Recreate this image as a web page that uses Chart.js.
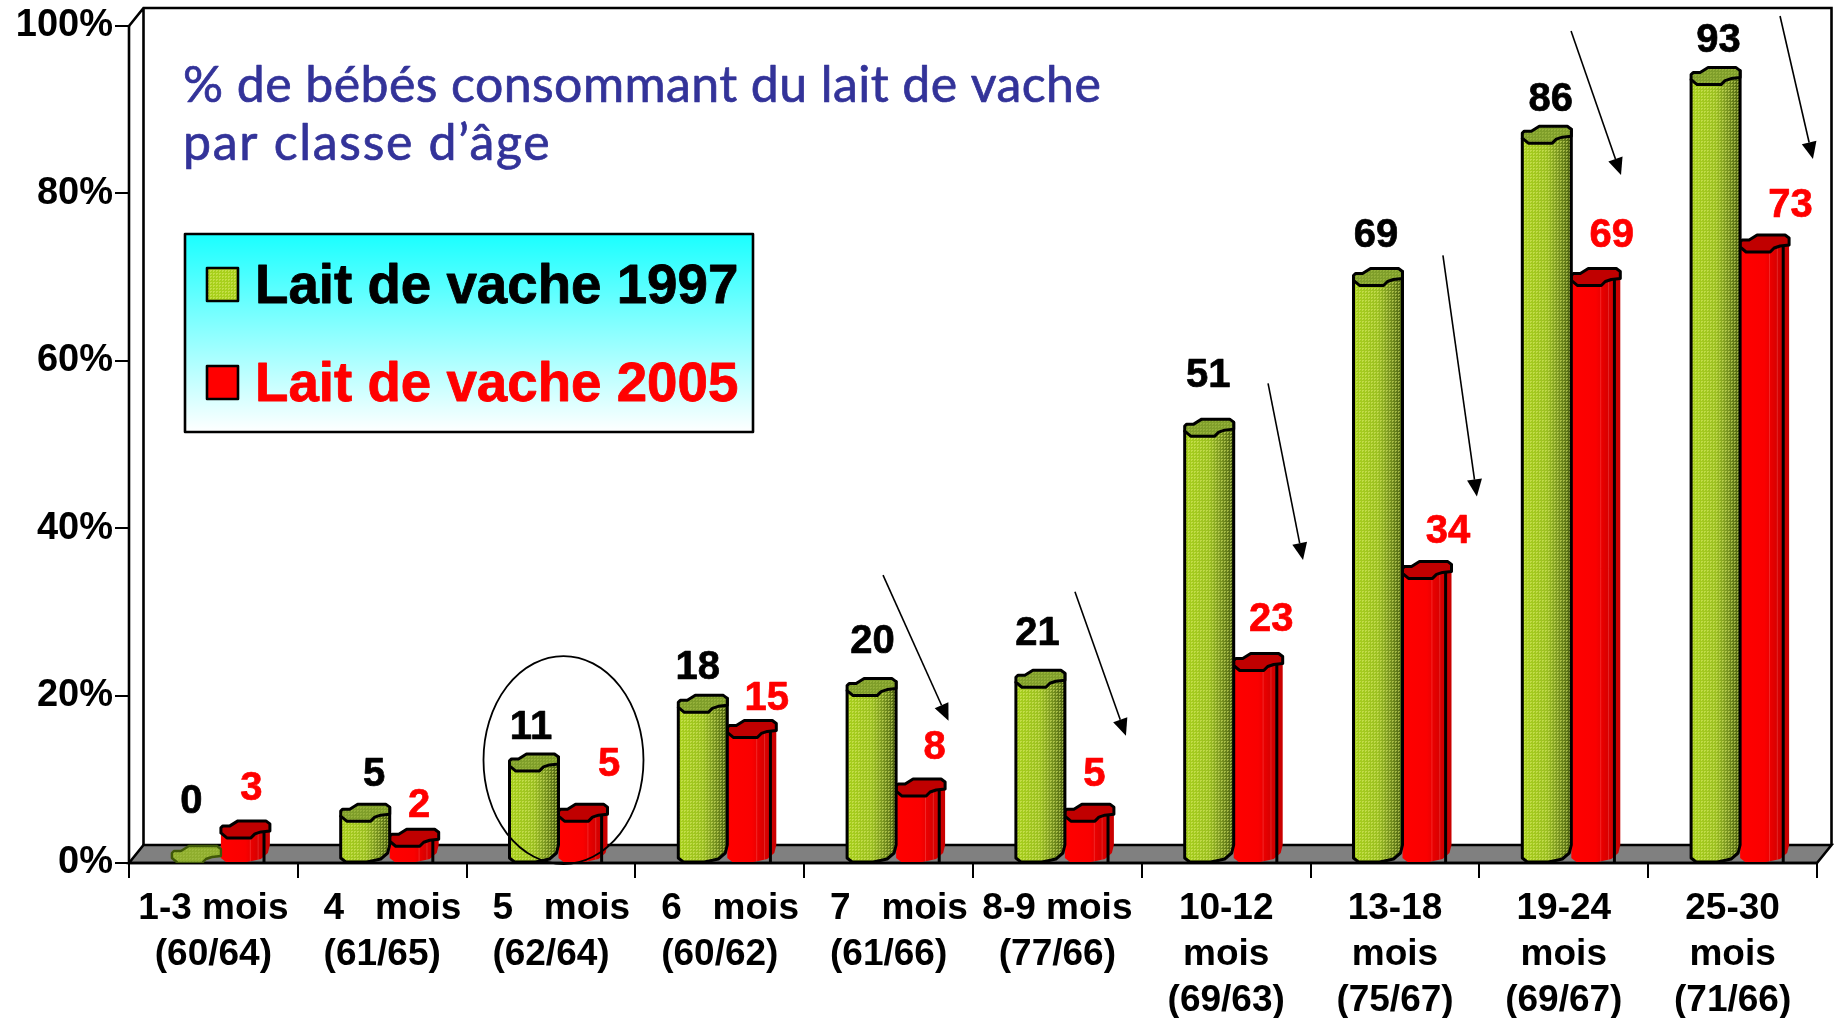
<!DOCTYPE html>
<html lang="fr">
<head>
<meta charset="utf-8">
<title>Lait de vache</title>
<style>html,body{margin:0;padding:0;background:#fff}canvas{display:block}</style>
<script src="https://cdn.jsdelivr.net/npm/chart.js@4/dist/chart.umd.js"></script>
</head>
<body>
<canvas id="c" width="1834" height="1018"></canvas>
<script>
// ---- data ----
const categories = [
  ['1-3 mois', '(60/64)'], ['  4   mois', '(61/65)'], ['  5   mois', '(62/64)'],
  ['  6   mois', '(60/62)'], ['  7   mois', '(61/66)'], ['8-9 mois', '(77/66)'],
  ['10-12', 'mois', '(69/63)'], ['13-18', 'mois', '(75/67)'],
  ['19-24', 'mois', '(69/67)'], ['25-30', 'mois', '(71/66)']
];
const values1997 = [0, 5, 11, 18, 20, 21, 51, 69, 86, 93];
const values2005 = [3, 2, 5, 15, 8, 5, 23, 34, 69, 73];
const series1997Name = 'Lait de vache 1997';
const series2005Name = 'Lait de vache 2005';
const titleLines = ['% de bébés consommant du lait de vache', 'par classe d\u2019âge'];
const yTicks = [0, 20, 40, 60, 80, 100];

// ---- hand placed annotations, in axis units (category index, percent) ----
const arrows = [
  [3.967, 34.4, 4.355, 17.0], [5.104, 32.4, 5.406, 15.2], [6.248, 57.3, 6.455, 36.2],
  [7.284, 72.6, 7.485, 43.8], [8.043, 99.4, 8.339, 82.2], [9.281, 101.2, 9.476, 84.1]
];
const circled = { cat: 2.074, pct: 12.3 };

// ---- label nudges in px, relative to the top of each bar ----
const lift1997 = [[-5, 61], [9, 46], [-3, 43], [-5, 44], [1, 54], [-3, 53], [-1, 60], [-2, 50], [4, 43], [3, 44]];
const lift2005 = [[6, 49], [5, 40], [26, 56], [15, 38], [14, 48], [5, 46], [13, 51], [21, 46], [16, 50], [26, 46]];

// ---- styling ----
const FONT = '"Liberation Sans", Arial, sans-serif';
const INK = '#000';
const RED = '#ff0000';
const DEPTH_X = 14.5, DEPTH_Y = 18, BAR_SHIFT = 7.5;

const capShape = [[0,-10],[2,-12],[9,-12],[17,-17],[45,-17],[49,-14],[49,-7],[40,-6],[34,-4],[30,0],[6,0],[0,-5]];

function dotPattern(ctx, light, alpha) {
  const c = document.createElement('canvas');
  c.width = 3; c.height = 3;
  const g = c.getContext('2d');
  g.fillStyle = light; g.globalAlpha = alpha;
  g.fillRect(0, 0, 2, 1); g.fillRect(0, 1, 1, 1);
  return ctx.createPattern(c, 'repeat');
}

function trace(ctx, pts, ox, oy) {
  ctx.beginPath();
  pts.forEach((p, i) => i ? ctx.lineTo(ox + p[0], oy + p[1]) : ctx.moveTo(ox + p[0], oy + p[1]));
  ctx.closePath();
}

function drawCylinder(isGreen) {
  return function (ctx) {
    const l = this.x - this.width / 2, w = this.width, y = this.y, b = this.base, k = w / 49;
    const cap = capShape.map(p => [p[0] * k, p[1]]);
    ctx.save();
    ctx.lineJoin = 'round';
    ctx.strokeStyle = INK;
    ctx.lineWidth = 3;
    if (b - y > 1) {
      const body = [[0,y-5],[0,b-4],[5*k,b],[26*k,b],[31*k,b-1],[40*k,b-3],[47*k,b-9],[49*k,b-17],[49*k,y-14]];
      trace(ctx, body, l, 0);
      const g = ctx.createLinearGradient(l, 0, l + w, 0);
      if (isGreen) {
        g.addColorStop(0, '#a8d01c'); g.addColorStop(.5, '#9cc022');
        g.addColorStop(.7, '#7f9c22'); g.addColorStop(1, '#4a6010');
      } else {
        g.addColorStop(0, '#ff0000'); g.addColorStop(.5, '#fa0000');
        g.addColorStop(.72, '#dc0000'); g.addColorStop(1, '#c80000');
      }
      ctx.fillStyle = g; ctx.fill();
      if (isGreen) { ctx.fillStyle = dotPattern(ctx, '#e0f070', .5); ctx.fill(); }
      else {
        ctx.save(); ctx.clip();
        ctx.strokeStyle = 'rgba(255,140,140,.28)'; ctx.lineWidth = 1;
        [.6, .76, .88].forEach(f => { ctx.beginPath(); ctx.moveTo(l + w*f, y - 10); ctx.lineTo(l + w*f, b); ctx.stroke(); });
        ctx.restore();
      }
      ctx.stroke();
    }
    trace(ctx, cap, l, y);
    ctx.fillStyle = isGreen ? '#7f9e2a' : '#c00000';
    if (b - y <= 1) ctx.fillStyle = '#8fae2e';
    ctx.fill();
    if (isGreen) { ctx.fillStyle = dotPattern(ctx, '#a9c44a', .5); ctx.fill(); }
    if (b - y > 1) { ctx.stroke(); }
    else { ctx.strokeStyle = '#3f5808'; ctx.lineWidth = 2.4; ctx.stroke(); }
    ctx.restore();
  };
}

function heavyText(ctx, text, x, y, weight) {
  ctx.fillText(text, x, y);
  ctx.lineWidth = weight; ctx.strokeStyle = ctx.fillStyle; ctx.lineJoin = 'round';
  ctx.strokeText(text, x, y);
}

const scene = {
  id: 'scene',
  afterDatasetsUpdate(chart) {
    [0, 1].forEach(d => chart.getDatasetMeta(d).data.forEach(el => {
      el.x += BAR_SHIFT;
      el.draw = drawCylinder(d === 0);
    }));
  },
  beforeDatasetsDraw(chart) {
    const { ctx, chartArea: a } = chart;
    const backX = a.left + DEPTH_X, backB = a.bottom - DEPTH_Y, rightX = a.right + DEPTH_X, topY = a.top - DEPTH_Y;
    ctx.save();
    ctx.lineJoin = 'miter';
    ctx.strokeStyle = INK; ctx.lineWidth = 2.6;
    ctx.beginPath();
    ctx.moveTo(a.left, a.bottom); ctx.lineTo(backX, backB); ctx.lineTo(rightX, backB); ctx.lineTo(a.right, a.bottom);
    ctx.closePath();
    ctx.fillStyle = '#808080'; ctx.fill(); ctx.stroke();
    ctx.beginPath();
    ctx.moveTo(a.left, a.top); ctx.lineTo(backX, topY); ctx.lineTo(rightX, topY); ctx.lineTo(rightX, backB);
    ctx.moveTo(backX, topY); ctx.lineTo(backX, backB);
    ctx.stroke();
    ctx.beginPath(); ctx.moveTo(a.left, a.top); ctx.lineTo(a.left, a.bottom); ctx.lineTo(a.right, a.bottom); ctx.stroke();
    ctx.restore();
  },
  afterDatasetsDraw(chart) {
    const { ctx, scales: { x, y } } = chart;
    ctx.save();
    // value labels
    ctx.textAlign = 'center'; ctx.textBaseline = 'middle';
    ctx.font = 'bold 40px ' + FONT;
    [[0, lift1997, INK], [1, lift2005, RED]].forEach(([d, lift, col]) => {
      ctx.fillStyle = col;
      chart.getDatasetMeta(d).data.forEach((el, i) => {
        heavyText(ctx, String(chart.data.datasets[d].data[i]), el.x + lift[i][0], el.y - lift[i][1], .7);
      });
    });
    // arrows
    ctx.strokeStyle = INK; ctx.fillStyle = INK; ctx.lineWidth = 1.6;
    arrows.forEach(([c0, p0, c1, p1]) => {
      const X0 = x.getPixelForValue(c0), Y0 = y.getPixelForValue(p0), X1 = x.getPixelForValue(c1), Y1 = y.getPixelForValue(p1);
      const t = Math.atan2(Y1 - Y0, X1 - X0), L = 17, W = 7.5;
      const bx = X1 - L * Math.cos(t), by = Y1 - L * Math.sin(t);
      ctx.beginPath(); ctx.moveTo(X0, Y0); ctx.lineTo(bx, by); ctx.stroke();
      ctx.beginPath(); ctx.moveTo(X1, Y1);
      ctx.lineTo(bx - W * Math.sin(t), by + W * Math.cos(t));
      ctx.lineTo(bx + W * Math.sin(t), by - W * Math.cos(t));
      ctx.closePath(); ctx.fill();
    });
    // circled group
    ctx.lineWidth = 1.8;
    ctx.beginPath();
    ctx.ellipse(x.getPixelForValue(circled.cat), y.getPixelForValue(circled.pct), 80, 104, 0, 0, Math.PI * 2);
    ctx.stroke();
    // title
    ctx.textAlign = 'left'; ctx.textBaseline = 'alphabetic';
    ctx.fillStyle = '#333399';
    ctx.font = '50px Lato, "Noto Sans", sans-serif';
    ctx.letterSpacing = '0.43px';
    heavyText(ctx, titleLines[0], 183, 102, .7);
    ctx.letterSpacing = '1.7px';
    heavyText(ctx, titleLines[1], 183, 160, .7);
    ctx.letterSpacing = '0px';
    // legend
    const bx = 185, by = 234, bw = 568, bh = 198;
    const g = ctx.createLinearGradient(0, by, 0, by + bh);
    g.addColorStop(0, '#1affff'); g.addColorStop(1, '#ffffff');
    ctx.fillStyle = g; ctx.fillRect(bx, by, bw, bh);
    ctx.strokeStyle = INK; ctx.lineWidth = 2.6; ctx.strokeRect(bx, by, bw, bh);
    ctx.font = 'bold 54.7px ' + FONT;
    ctx.textBaseline = 'alphabetic';
    [[268, 303, 0, INK], [366, 401, 1, RED]].forEach(([sy, base, d, col]) => {
      const sw = d === 0 ? '#a8d01c' : RED;
      ctx.fillStyle = sw; ctx.fillRect(207, sy, 31, 33);
      if (d === 0) { ctx.fillStyle = dotPattern(ctx, '#e0f070', .5); ctx.fillRect(207, sy, 31, 33); }
      ctx.strokeStyle = INK; ctx.lineWidth = 2.6; ctx.strokeRect(207, sy, 31, 33);
      ctx.fillStyle = col;
      heavyText(ctx, chart.data.datasets[d].label, 255, base, .8);
    });
    ctx.restore();
  }
};

new Chart(document.getElementById('c'), {
  type: 'bar',
  plugins: [scene],
  data: {
    labels: categories,
    datasets: [
      { label: series1997Name, data: values1997, backgroundColor: '#9dbe28', borderColor: INK },
      { label: series2005Name, data: values2005, backgroundColor: RED, borderColor: INK }
    ]
  },
  options: {
    responsive: false,
    animation: false,
    events: [],
    layout: { padding: { top: 26, right: 17, left: 0, bottom: 0 } },
    datasets: { bar: { barPercentage: 1, categoryPercentage: 98 / 168.8 } },
    plugins: { legend: { display: false }, title: { display: false }, tooltip: { enabled: false } },
    scales: {
      x: {
        afterFit(s) { s.height = 155; },
        grid: { display: true, drawOnChartArea: false, tickLength: 15, tickColor: INK, tickWidth: 2, lineWidth: 2 },
        border: { display: false },
        ticks: {
          color: INK, autoSkip: false, maxRotation: 0, minRotation: 0, padding: 8,
          font: { family: FONT, weight: 'bold', size: 37, lineHeight: 1.24 }
        }
      },
      y: {
        min: 0, max: 100,
        afterFit(s) { s.width = 129; },
        afterBuildTicks(s) { s.ticks = yTicks.map(v => ({ value: v })); },
        grid: { display: true, drawOnChartArea: false, tickLength: 14, tickColor: INK, tickWidth: 2, lineWidth: 2 },
        border: { display: false },
        ticks: {
          color: INK, padding: 2, callback: v => v + '%',
          font: { family: FONT, weight: 'bold', size: 38 }
        }
      }
    }
  }
});
</script>
</body>
</html>
